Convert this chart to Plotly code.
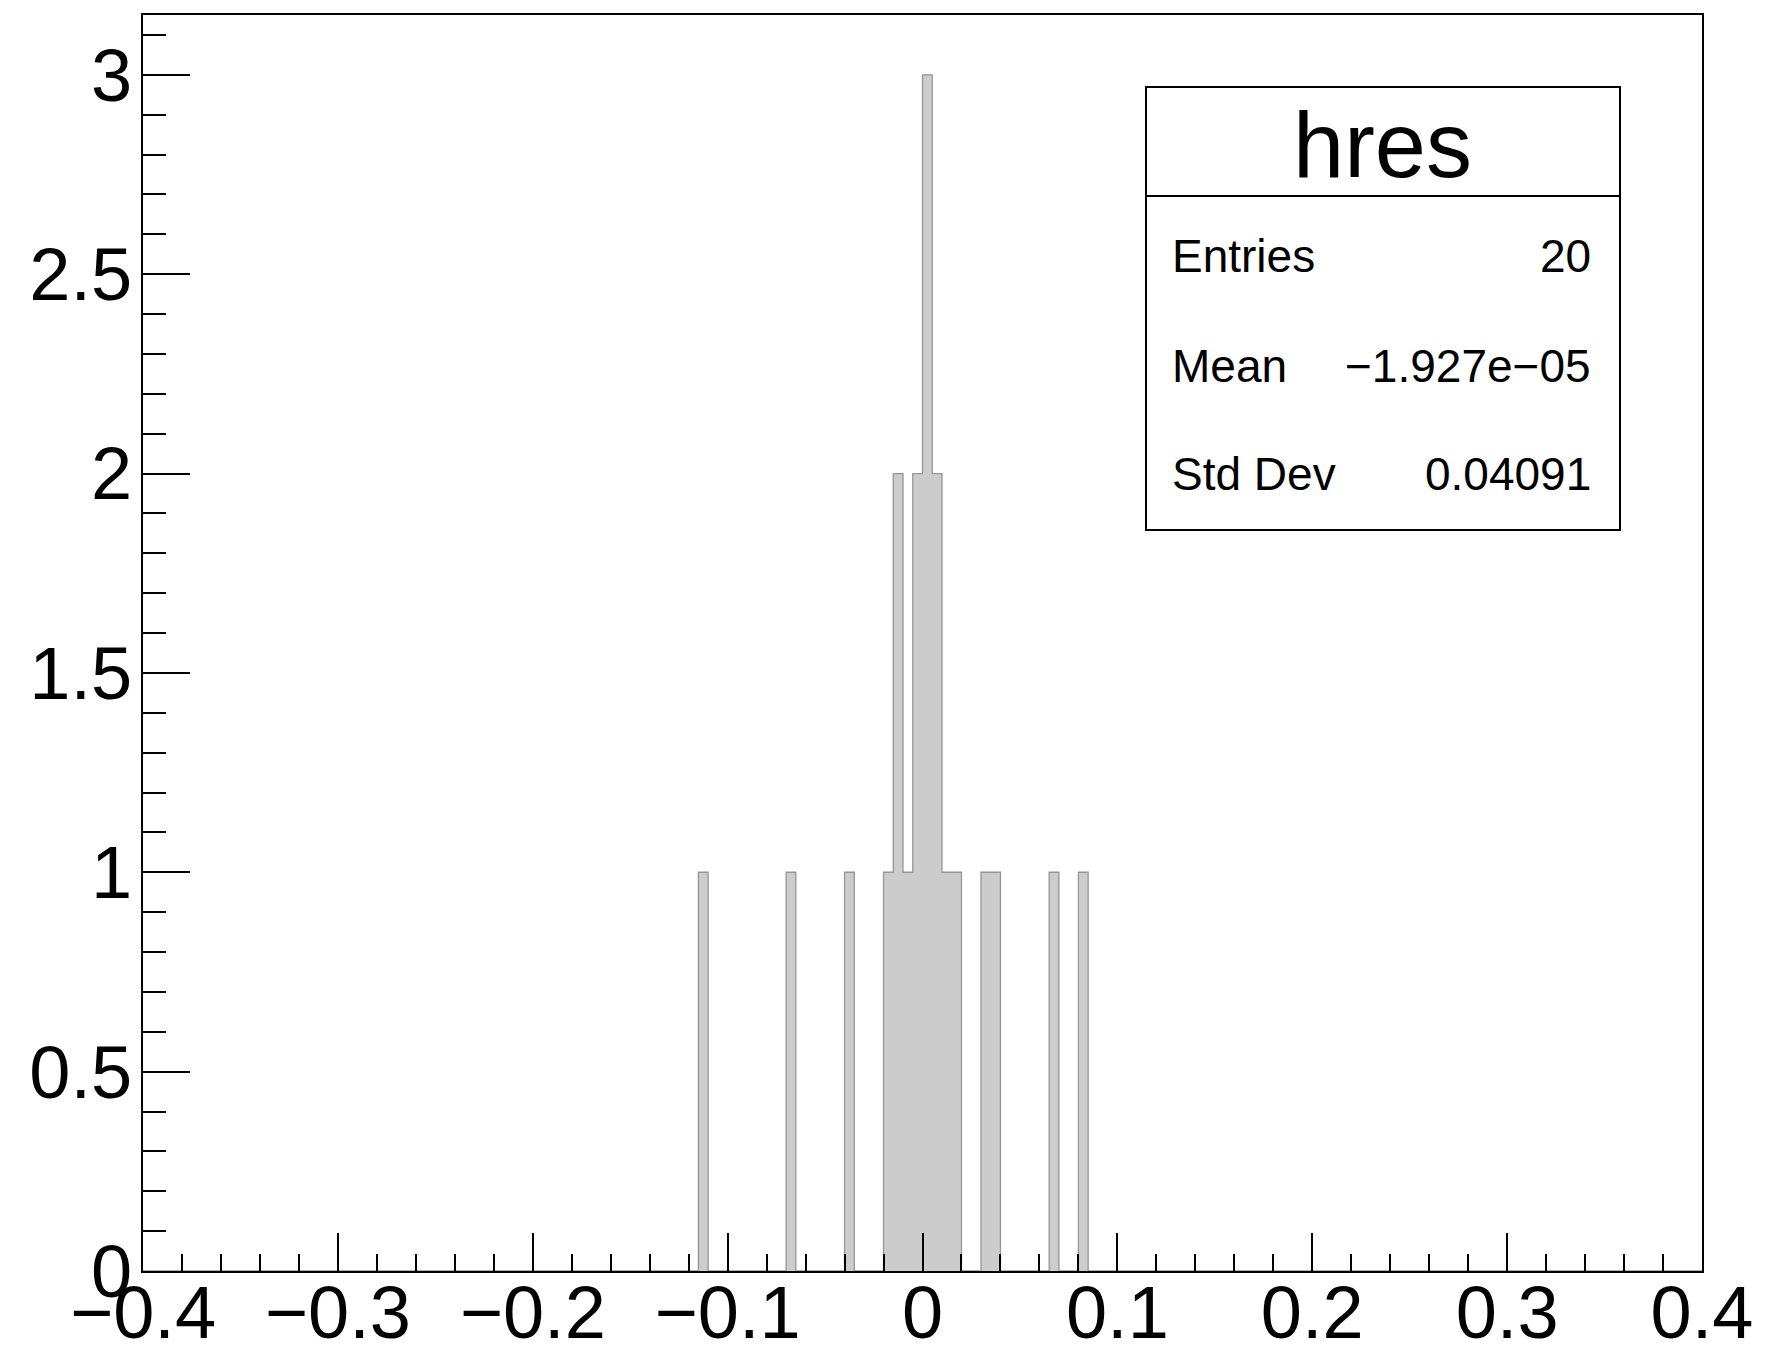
import plotly.graph_objects as go

# ---- data ----
hist_name = "hres"
x_min, x_max, n_bins = -0.4, 0.4, 160
bin_low_edges = [-0.115, -0.070, -0.040, -0.020, -0.015, -0.010, -0.005, 0.000,
                 0.005, 0.010, 0.015, 0.030, 0.035, 0.065, 0.080]
bin_counts = [1, 1, 1, 1, 2, 1, 2, 3, 2, 1, 1, 1, 1, 1, 1]
stats_labels = ["Entries", "Mean", "Std Dev"]
stats_values = ["20", "\u22121.927e\u221205", "0.04091"]
y_max = 3.15

# ---- build full histogram ----
bw = (x_max - x_min) / n_bins
counts = [0] * n_bins
for lo, c in zip(bin_low_edges, bin_counts):
    counts[int(round((lo - x_min) / bw))] += c
edges = [x_min + i * bw for i in range(n_bins + 1)]
ys = counts + [counts[-1]]

FONT = "Liberation Sans, Arial, Helvetica, sans-serif"

fig = go.Figure()
fig.add_trace(go.Scatter(
    x=edges, y=ys, mode="lines", line_shape="hv",
    line=dict(color="rgb(150,150,150)", width=1.3),
    fill="tozeroy", fillcolor="rgb(204,204,204)",
    hoverinfo="skip", showlegend=False,
))

# page offset of the plot div (body margin)
OFF = 8
W, H = 1771 - 2 * OFF, 1349 - 2 * OFF
pl, pr, pt, pb = 143, 1702, 15, 1271  # plot area in page px
L, T = pl - OFF, pt - OFF
R = W - (pr - OFF)
B = H - (pb - OFF)

fig.update_layout(
    width=W, height=H,
    margin=dict(l=L, r=R, t=T, b=B, pad=0, autoexpand=False),
    paper_bgcolor="white", plot_bgcolor="white",
    font=dict(family=FONT, color="black"),
    showlegend=False,
)
fig.update_xaxes(
    range=[x_min, x_max], dtick=0.1, tick0=0, automargin=False,
    ticks="inside", ticklen=38, tickwidth=2, tickcolor="black",
    minor=dict(dtick=0.02, ticks="inside", ticklen=17, tickwidth=2, tickcolor="black", showgrid=False),
    showline=True, linecolor="black", linewidth=2, mirror=True,
    showgrid=False, zeroline=False,
    tickfont=dict(size=74, family=FONT, color="black"),
    ticklabelstandoff=-24,
)
fig.update_yaxes(
    range=[0, y_max], dtick=0.5, tick0=0, automargin=False,
    ticks="inside", ticklen=47, tickwidth=2, tickcolor="black",
    minor=dict(dtick=0.1, ticks="inside", ticklen=23, tickwidth=2, tickcolor="black", showgrid=False),
    showline=True, linecolor="black", linewidth=2, mirror=True,
    showgrid=False, zeroline=False,
    tickfont=dict(size=74, family=FONT, color="black"),
    ticklabelstandoff=-6,
)

# ---- stats box (page px -> paper coords) ----
pw, ph = pr - pl, pb - pt
def px(x): return (x - pl) / pw
def py(y): return (pb - y) / ph

bx0, bx1, by0, by1, bdiv = 1146, 1620, 87, 530, 196
fig.add_shape(type="rect", xref="paper", yref="paper",
              x0=px(bx0), x1=px(bx1), y0=py(by1), y1=py(by0),
              line=dict(color="black", width=2), fillcolor="white", layer="above")
fig.add_shape(type="line", xref="paper", yref="paper",
              x0=px(bx0), x1=px(bx1), y0=py(bdiv), y1=py(bdiv),
              line=dict(color="black", width=2), layer="above")
fig.add_annotation(xref="paper", yref="paper", x=px(1382), y=py(145),
                   text=hist_name, showarrow=False, xanchor="center", yanchor="middle",
                   font=dict(size=92, family=FONT, color="black"))
row_centers = [256, 366, 474]
for lab, val, yc in zip(stats_labels, stats_values, row_centers):
    fig.add_annotation(xref="paper", yref="paper", x=px(1170), y=py(yc),
                       text=lab, showarrow=False, xanchor="left", yanchor="middle",
                       font=dict(size=46, family=FONT, color="black"))
    fig.add_annotation(xref="paper", yref="paper", x=px(1593), y=py(yc),
                       text=val, showarrow=False, xanchor="right", yanchor="middle",
                       font=dict(size=46, family=FONT, color="black"))

fig.write_html("out.html")
